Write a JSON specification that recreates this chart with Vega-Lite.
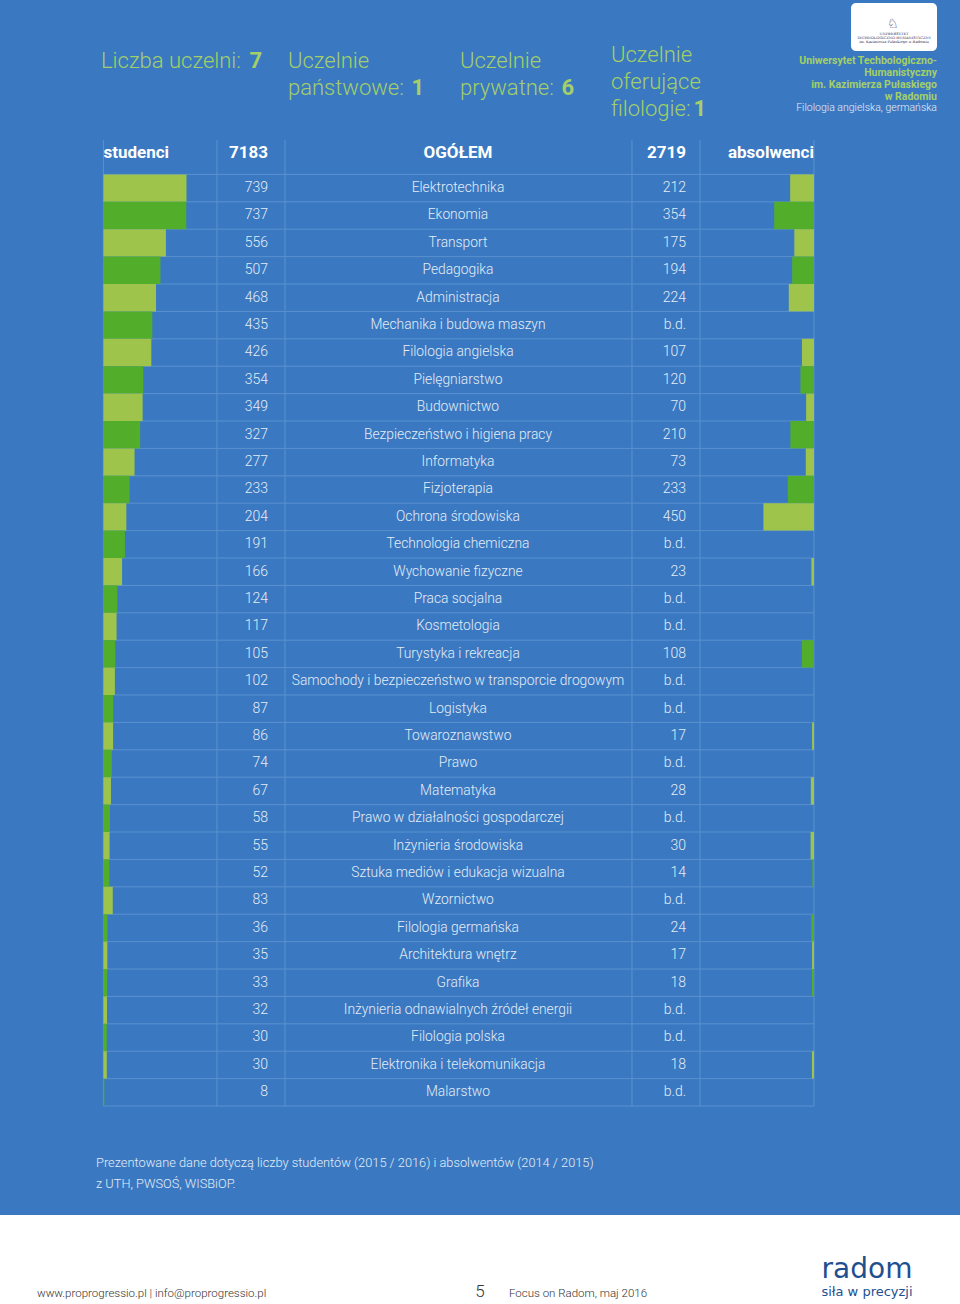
{
  "$schema": "https://vega.github.io/schema/vega-lite/v6.json",
  "padding": 0,
  "spacing": 0,
  "bounds": "flush",
  "background": "#3a79c1",
  "config": {"view": {"stroke": null}, "text": {"font": "Roboto"}},
  "datasets": {
    "courses": [
      {"course": "Elektrotechnika", "students": 739, "grads": 212},
      {"course": "Ekonomia", "students": 737, "grads": 354},
      {"course": "Transport", "students": 556, "grads": 175},
      {"course": "Pedagogika", "students": 507, "grads": 194},
      {"course": "Administracja", "students": 468, "grads": 224},
      {"course": "Mechanika i budowa maszyn", "students": 435, "grads": null},
      {"course": "Filologia angielska", "students": 426, "grads": 107},
      {"course": "Pielęgniarstwo", "students": 354, "grads": 120},
      {"course": "Budownictwo", "students": 349, "grads": 70},
      {"course": "Bezpieczeństwo i higiena pracy", "students": 327, "grads": 210},
      {"course": "Informatyka", "students": 277, "grads": 73},
      {"course": "Fizjoterapia", "students": 233, "grads": 233},
      {"course": "Ochrona środowiska", "students": 204, "grads": 450},
      {"course": "Technologia chemiczna", "students": 191, "grads": null},
      {"course": "Wychowanie fizyczne", "students": 166, "grads": 23},
      {"course": "Praca socjalna", "students": 124, "grads": null},
      {"course": "Kosmetologia", "students": 117, "grads": null},
      {"course": "Turystyka i rekreacja", "students": 105, "grads": 108},
      {"course": "Samochody i bezpieczeństwo w transporcie drogowym", "students": 102, "grads": null},
      {"course": "Logistyka", "students": 87, "grads": null},
      {"course": "Towaroznawstwo", "students": 86, "grads": 17},
      {"course": "Prawo", "students": 74, "grads": null},
      {"course": "Matematyka", "students": 67, "grads": 28},
      {"course": "Prawo w działalności gospodarczej", "students": 58, "grads": null},
      {"course": "Inżynieria środowiska", "students": 55, "grads": 30},
      {"course": "Sztuka mediów i edukacja wizualna", "students": 52, "grads": 14},
      {"course": "Wzornictwo", "students": 83, "grads": null},
      {"course": "Filologia germańska", "students": 36, "grads": 24},
      {"course": "Architektura wnętrz", "students": 35, "grads": 17},
      {"course": "Grafika", "students": 33, "grads": 18},
      {"course": "Inżynieria odnawialnych źródeł energii", "students": 32, "grads": null},
      {"course": "Filologia polska", "students": 30, "grads": null},
      {"course": "Elektronika i telekomunikacja", "students": 30, "grads": 18},
      {"course": "Malarstwo", "students": 8, "grads": null}
    ]
  },
  "vconcat": [
    {
      "width": 960,
      "height": 140,
      "data": {"values": [{}]},
      "layer": [
        {
          "mark": {"type": "rect", "fill": "#ffffff", "cornerRadius": 5},
          "encoding": {
            "x": {"datum": 851, "type": "quantitative", "scale": {"domain": [0, 960], "nice": false, "zero": false}, "axis": null},
            "x2": {"datum": 937},
            "y": {"datum": 3, "type": "quantitative", "scale": {"domain": [0, 140], "nice": false, "zero": false, "reverse": true}, "axis": null},
            "y2": {"datum": 51}
          }
        },
        {
          "mark": {"type": "text", "align": "center", "baseline": "alphabetic", "fontSize": 13, "color": "#2b2b55", "font": "DejaVu Serif"},
          "encoding": {
            "x": {"datum": 893, "type": "quantitative", "scale": {"domain": [0, 960], "nice": false, "zero": false}, "axis": null},
            "y": {"datum": 28, "type": "quantitative", "scale": {"domain": [0, 140], "nice": false, "zero": false, "reverse": true}, "axis": null},
            "text": {"value": "♘"}
          }
        },
        {
          "mark": {"type": "text", "align": "center", "baseline": "alphabetic", "fontSize": 3.6, "lineHeight": 4, "color": "#2b2b55", "font": "DejaVu Serif"},
          "encoding": {
            "x": {"datum": 894, "type": "quantitative", "scale": {"domain": [0, 960], "nice": false, "zero": false}, "axis": null},
            "y": {"datum": 35, "type": "quantitative", "scale": {"domain": [0, 140], "nice": false, "zero": false, "reverse": true}, "axis": null},
            "text": {"value": ["UNIWERSYTET", "TECHNOLOGICZNO-HUMANISTYCZNY", "im. Kazimierza Pułaskiego w Radomiu"]}
          }
        },
        {
          "mark": {"type": "text", "align": "left", "baseline": "alphabetic", "fontSize": 22, "fontWeight": 300, "color": "#a4cf68"},
          "encoding": {
            "x": {"datum": 101, "type": "quantitative", "scale": {"domain": [0, 960], "nice": false, "zero": false}, "axis": null},
            "y": {"datum": 67.5, "type": "quantitative", "scale": {"domain": [0, 140], "nice": false, "zero": false, "reverse": true}, "axis": null},
            "text": {"value": "Liczba uczelni:"}
          }
        },
        {
          "mark": {"type": "text", "align": "right", "baseline": "alphabetic", "fontSize": 22, "fontWeight": "bold", "color": "#a4cf68"},
          "encoding": {
            "x": {"datum": 262, "type": "quantitative", "scale": {"domain": [0, 960], "nice": false, "zero": false}, "axis": null},
            "y": {"datum": 67.5, "type": "quantitative", "scale": {"domain": [0, 140], "nice": false, "zero": false, "reverse": true}, "axis": null},
            "text": {"value": "7"}
          }
        },
        {
          "mark": {"type": "text", "align": "left", "baseline": "alphabetic", "fontSize": 22, "fontWeight": 300, "lineHeight": 27, "color": "#a4cf68"},
          "encoding": {
            "x": {"datum": 288, "type": "quantitative", "scale": {"domain": [0, 960], "nice": false, "zero": false}, "axis": null},
            "y": {"datum": 67.5, "type": "quantitative", "scale": {"domain": [0, 140], "nice": false, "zero": false, "reverse": true}, "axis": null},
            "text": {"value": ["Uczelnie", "państwowe:"]}
          }
        },
        {
          "mark": {"type": "text", "align": "right", "baseline": "alphabetic", "fontSize": 22, "fontWeight": "bold", "color": "#a4cf68"},
          "encoding": {
            "x": {"datum": 424, "type": "quantitative", "scale": {"domain": [0, 960], "nice": false, "zero": false}, "axis": null},
            "y": {"datum": 94.5, "type": "quantitative", "scale": {"domain": [0, 140], "nice": false, "zero": false, "reverse": true}, "axis": null},
            "text": {"value": "1"}
          }
        },
        {
          "mark": {"type": "text", "align": "left", "baseline": "alphabetic", "fontSize": 22, "fontWeight": 300, "lineHeight": 27, "color": "#a4cf68"},
          "encoding": {
            "x": {"datum": 460, "type": "quantitative", "scale": {"domain": [0, 960], "nice": false, "zero": false}, "axis": null},
            "y": {"datum": 67.5, "type": "quantitative", "scale": {"domain": [0, 140], "nice": false, "zero": false, "reverse": true}, "axis": null},
            "text": {"value": ["Uczelnie", "prywatne:"]}
          }
        },
        {
          "mark": {"type": "text", "align": "right", "baseline": "alphabetic", "fontSize": 22, "fontWeight": "bold", "color": "#a4cf68"},
          "encoding": {
            "x": {"datum": 574, "type": "quantitative", "scale": {"domain": [0, 960], "nice": false, "zero": false}, "axis": null},
            "y": {"datum": 94.5, "type": "quantitative", "scale": {"domain": [0, 140], "nice": false, "zero": false, "reverse": true}, "axis": null},
            "text": {"value": "6"}
          }
        },
        {
          "mark": {"type": "text", "align": "left", "baseline": "alphabetic", "fontSize": 22, "fontWeight": 300, "lineHeight": 27, "color": "#a4cf68"},
          "encoding": {
            "x": {"datum": 611, "type": "quantitative", "scale": {"domain": [0, 960], "nice": false, "zero": false}, "axis": null},
            "y": {"datum": 62, "type": "quantitative", "scale": {"domain": [0, 140], "nice": false, "zero": false, "reverse": true}, "axis": null},
            "text": {"value": ["Uczelnie", "oferujące", "filologie:"]}
          }
        },
        {
          "mark": {"type": "text", "align": "right", "baseline": "alphabetic", "fontSize": 22, "fontWeight": "bold", "color": "#a4cf68"},
          "encoding": {
            "x": {"datum": 706, "type": "quantitative", "scale": {"domain": [0, 960], "nice": false, "zero": false}, "axis": null},
            "y": {"datum": 116, "type": "quantitative", "scale": {"domain": [0, 140], "nice": false, "zero": false, "reverse": true}, "axis": null},
            "text": {"value": "1"}
          }
        },
        {
          "mark": {"type": "text", "align": "right", "baseline": "alphabetic", "fontSize": 10.5, "fontWeight": "bold", "lineHeight": 12, "color": "#a4cf68"},
          "encoding": {
            "x": {"datum": 937, "type": "quantitative", "scale": {"domain": [0, 960], "nice": false, "zero": false}, "axis": null},
            "y": {"datum": 64, "type": "quantitative", "scale": {"domain": [0, 140], "nice": false, "zero": false, "reverse": true}, "axis": null},
            "text": {"value": ["Uniwersytet Techbologiczno-", "Humanistyczny", "im. Kazimierza Pułaskiego", "w Radomiu"]}
          }
        },
        {
          "mark": {"type": "text", "align": "right", "baseline": "alphabetic", "fontSize": 10.5, "fontWeight": 300, "color": "#e3ecf7"},
          "encoding": {
            "x": {"datum": 937, "type": "quantitative", "scale": {"domain": [0, 960], "nice": false, "zero": false}, "axis": null},
            "y": {"datum": 111, "type": "quantitative", "scale": {"domain": [0, 140], "nice": false, "zero": false, "reverse": true}, "axis": null},
            "text": {"value": "Filologia angielska, germańska"}
          }
        }
      ]
    },
    {
      "width": 960,
      "height": 966,
      "data": {"name": "courses"},
      "resolve": {"scale": {"x": "independent"}},
      "layer": [
        {
          "mark": {"type": "rule", "color": "#5a91cf", "strokeWidth": 1},
          "encoding": {
            "x": {"datum": 0, "type": "quantitative", "scale": {"domain": [-920, 7620], "nice": false, "zero": false}, "axis": null},
            "x2": {"datum": 6321},
            "y": {"field": "course", "type": "nominal", "bandPosition": 0, "axis": null,
                  "scale": {"domain": ["OGÓŁEM", "Elektrotechnika", "Ekonomia", "Transport", "Pedagogika", "Administracja", "Mechanika i budowa maszyn", "Filologia angielska", "Pielęgniarstwo", "Budownictwo", "Bezpieczeństwo i higiena pracy", "Informatyka", "Fizjoterapia", "Ochrona środowiska", "Technologia chemiczna", "Wychowanie fizyczne", "Praca socjalna", "Kosmetologia", "Turystyka i rekreacja", "Samochody i bezpieczeństwo w transporcie drogowym", "Logistyka", "Towaroznawstwo", "Prawo", "Matematyka", "Prawo w działalności gospodarczej", "Inżynieria środowiska", "Sztuka mediów i edukacja wizualna", "Wzornictwo", "Filologia germańska", "Architektura wnętrz", "Grafika", "Inżynieria odnawialnych źródeł energii", "Filologia polska", "Elektronika i telekomunikacja", "Malarstwo"],
                            "paddingInner": 0, "paddingOuter": 0.1277, "align": 1}}
          }
        },
        {
          "data": {"values": [{}]},
          "mark": {"type": "rule", "color": "#5a91cf", "strokeWidth": 1},
          "encoding": {
            "x": {"datum": 0, "type": "quantitative", "scale": {"domain": [-920, 7620], "nice": false, "zero": false}, "axis": null},
            "x2": {"datum": 6321},
            "y": {"datum": "Malarstwo", "type": "nominal", "bandPosition": 1, "axis": null}
          }
        },
        {
          "data": {"values": [{}]},
          "mark": {"type": "rule", "color": "#5a91cf", "strokeWidth": 1},
          "encoding": {"x": {"datum": 0, "type": "quantitative", "scale": {"domain": [-920, 7620], "nice": false, "zero": false}, "axis": null}}
        },
        {
          "data": {"values": [{}]},
          "mark": {"type": "rule", "color": "#5a91cf", "strokeWidth": 1},
          "encoding": {"x": {"datum": 1010, "type": "quantitative", "scale": {"domain": [-920, 7620], "nice": false, "zero": false}, "axis": null}}
        },
        {
          "data": {"values": [{}]},
          "mark": {"type": "rule", "color": "#5a91cf", "strokeWidth": 1},
          "encoding": {"x": {"datum": 1615, "type": "quantitative", "scale": {"domain": [-920, 7620], "nice": false, "zero": false}, "axis": null}}
        },
        {
          "data": {"values": [{}]},
          "mark": {"type": "rule", "color": "#5a91cf", "strokeWidth": 1},
          "encoding": {"x": {"datum": 4702, "type": "quantitative", "scale": {"domain": [-920, 7620], "nice": false, "zero": false}, "axis": null}}
        },
        {
          "data": {"values": [{}]},
          "mark": {"type": "rule", "color": "#5a91cf", "strokeWidth": 1},
          "encoding": {"x": {"datum": 5307, "type": "quantitative", "scale": {"domain": [-920, 7620], "nice": false, "zero": false}, "axis": null}}
        },
        {
          "data": {"values": [{}]},
          "mark": {"type": "rule", "color": "#5a91cf", "strokeWidth": 1},
          "encoding": {"x": {"datum": 6321, "type": "quantitative", "scale": {"domain": [-920, 7620], "nice": false, "zero": false}, "axis": null}}
        },
        {
          "mark": {"type": "bar"},
          "encoding": {
            "x": {"field": "students", "type": "quantitative", "scale": {"domain": [-920, 7620], "nice": false, "zero": false}, "axis": null},
            "x2": {"datum": 0},
            "y": {"field": "course", "type": "nominal", "axis": null},
            "color": {"field": "course", "type": "nominal", "legend": null,
                      "scale": {"domain": ["Elektrotechnika", "Ekonomia", "Transport", "Pedagogika", "Administracja", "Mechanika i budowa maszyn", "Filologia angielska", "Pielęgniarstwo", "Budownictwo", "Bezpieczeństwo i higiena pracy", "Informatyka", "Fizjoterapia", "Ochrona środowiska", "Technologia chemiczna", "Wychowanie fizyczne", "Praca socjalna", "Kosmetologia", "Turystyka i rekreacja", "Samochody i bezpieczeństwo w transporcie drogowym", "Logistyka", "Towaroznawstwo", "Prawo", "Matematyka", "Prawo w działalności gospodarczej", "Inżynieria środowiska", "Sztuka mediów i edukacja wizualna", "Wzornictwo", "Filologia germańska", "Architektura wnętrz", "Grafika", "Inżynieria odnawialnych źródeł energii", "Filologia polska", "Elektronika i telekomunikacja", "Malarstwo"],
                                "range": ["#9ec44c", "#52ae2a", "#9ec44c", "#52ae2a", "#9ec44c", "#52ae2a", "#9ec44c", "#52ae2a", "#9ec44c", "#52ae2a", "#9ec44c", "#52ae2a", "#9ec44c", "#52ae2a", "#9ec44c", "#52ae2a", "#9ec44c", "#52ae2a", "#9ec44c", "#52ae2a", "#9ec44c", "#52ae2a", "#9ec44c", "#52ae2a", "#9ec44c", "#52ae2a", "#9ec44c", "#52ae2a", "#9ec44c", "#52ae2a", "#9ec44c", "#52ae2a", "#9ec44c", "#52ae2a"]}}
          }
        },
        {
          "mark": {"type": "bar"},
          "encoding": {
            "x": {"field": "grads", "type": "quantitative", "scale": {"domain": [-1299, 7241], "nice": false, "zero": false, "reverse": true}, "axis": null},
            "x2": {"datum": 0},
            "y": {"field": "course", "type": "nominal", "axis": null},
            "color": {"field": "course", "type": "nominal", "legend": null}
          }
        },
        {
          "mark": {"type": "text", "align": "right", "baseline": "middle", "fontSize": 14, "fontWeight": 300, "color": "#e3ecf7"},
          "encoding": {
            "x": {"datum": 1464, "type": "quantitative", "scale": {"domain": [-920, 7620], "nice": false, "zero": false}, "axis": null},
            "y": {"field": "course", "type": "nominal", "axis": null},
            "text": {"field": "students", "type": "quantitative", "format": "d"}
          }
        },
        {
          "mark": {"type": "text", "align": "center", "baseline": "middle", "fontSize": 13.8, "fontWeight": 300, "color": "#e3ecf7"},
          "encoding": {
            "x": {"datum": 3154, "type": "quantitative", "scale": {"domain": [-920, 7620], "nice": false, "zero": false}, "axis": null},
            "y": {"field": "course", "type": "nominal", "axis": null},
            "text": {"field": "course", "type": "nominal"}
          }
        },
        {
          "transform": [{"filter": "datum.grads != null"}],
          "mark": {"type": "text", "align": "right", "baseline": "middle", "fontSize": 14, "fontWeight": 300, "color": "#e3ecf7"},
          "encoding": {
            "x": {"datum": 5183, "type": "quantitative", "scale": {"domain": [-920, 7620], "nice": false, "zero": false}, "axis": null},
            "y": {"field": "course", "type": "nominal", "axis": null},
            "text": {"field": "grads", "type": "quantitative", "format": "d"}
          }
        },
        {
          "transform": [{"filter": "datum.grads == null"}],
          "mark": {"type": "text", "align": "right", "baseline": "middle", "fontSize": 14, "fontWeight": 300, "color": "#e3ecf7"},
          "encoding": {
            "x": {"datum": 5183, "type": "quantitative", "scale": {"domain": [-920, 7620], "nice": false, "zero": false}, "axis": null},
            "y": {"field": "course", "type": "nominal", "axis": null},
            "text": {"value": "b.d."}
          }
        },
        {
          "data": {"values": [{}]},
          "mark": {"type": "text", "align": "left", "baseline": "alphabetic", "dy": -3, "fontSize": 17, "fontWeight": "bold", "color": "#ffffff"},
          "encoding": {
            "x": {"datum": 0, "type": "quantitative", "scale": {"domain": [-920, 7620], "nice": false, "zero": false}, "axis": null},
            "y": {"datum": "OGÓŁEM", "type": "nominal", "axis": null},
            "text": {"value": "studenci"}
          }
        },
        {
          "mark": {"type": "text", "align": "right", "baseline": "alphabetic", "dy": -3, "fontSize": 17, "fontWeight": "bold", "color": "#ffffff"},
          "encoding": {
            "x": {"datum": 1464, "type": "quantitative", "scale": {"domain": [-920, 7620], "nice": false, "zero": false}, "axis": null},
            "y": {"datum": "OGÓŁEM", "type": "nominal", "axis": null},
            "text": {"aggregate": "sum", "field": "students", "type": "quantitative", "format": "d"}
          }
        },
        {
          "data": {"values": [{}]},
          "mark": {"type": "text", "align": "center", "baseline": "alphabetic", "dy": -3, "fontSize": 17, "fontWeight": "bold", "color": "#ffffff"},
          "encoding": {
            "x": {"datum": 3154, "type": "quantitative", "scale": {"domain": [-920, 7620], "nice": false, "zero": false}, "axis": null},
            "y": {"datum": "OGÓŁEM", "type": "nominal", "axis": null},
            "text": {"value": "OGÓŁEM"}
          }
        },
        {
          "mark": {"type": "text", "align": "right", "baseline": "alphabetic", "dy": -3, "fontSize": 17, "fontWeight": "bold", "color": "#ffffff"},
          "encoding": {
            "x": {"datum": 5183, "type": "quantitative", "scale": {"domain": [-920, 7620], "nice": false, "zero": false}, "axis": null},
            "y": {"datum": "OGÓŁEM", "type": "nominal", "axis": null},
            "text": {"aggregate": "sum", "field": "grads", "type": "quantitative", "format": "d"}
          }
        },
        {
          "data": {"values": [{}]},
          "mark": {"type": "text", "align": "right", "baseline": "alphabetic", "dy": -3, "fontSize": 17, "fontWeight": "bold", "color": "#ffffff"},
          "encoding": {
            "x": {"datum": 6321, "type": "quantitative", "scale": {"domain": [-920, 7620], "nice": false, "zero": false}, "axis": null},
            "y": {"datum": "OGÓŁEM", "type": "nominal", "axis": null},
            "text": {"value": "absolwenci"}
          }
        }
      ]
    },
    {
      "width": 960,
      "height": 198,
      "data": {"values": [{}]},
      "layer": [
        {
          "mark": {"type": "rect", "fill": "#ffffff"},
          "encoding": {
            "x": {"datum": 0, "type": "quantitative", "scale": {"domain": [0, 960], "nice": false, "zero": false}, "axis": null},
            "x2": {"datum": 960},
            "y": {"datum": 109, "type": "quantitative", "scale": {"domain": [0, 198], "nice": false, "zero": false, "reverse": true}, "axis": null},
            "y2": {"datum": 198}
          }
        },
        {
          "mark": {"type": "text", "align": "left", "baseline": "alphabetic", "fontSize": 12.8, "fontWeight": 300, "lineHeight": 20.5, "color": "#e3ecf7"},
          "encoding": {
            "x": {"datum": 96, "type": "quantitative", "scale": {"domain": [0, 960], "nice": false, "zero": false}, "axis": null},
            "y": {"datum": 61, "type": "quantitative", "scale": {"domain": [0, 198], "nice": false, "zero": false, "reverse": true}, "axis": null},
            "text": {"value": ["Prezentowane dane dotyczą liczby studentów (2015 / 2016) i absolwentów (2014 / 2015)", "z UTH, PWSOŚ, WISBiOP."]}
          }
        },
        {
          "mark": {"type": "text", "align": "left", "baseline": "alphabetic", "fontSize": 11.5, "fontWeight": 300, "color": "#333333"},
          "encoding": {
            "x": {"datum": 37, "type": "quantitative", "scale": {"domain": [0, 960], "nice": false, "zero": false}, "axis": null},
            "y": {"datum": 191, "type": "quantitative", "scale": {"domain": [0, 198], "nice": false, "zero": false, "reverse": true}, "axis": null},
            "text": {"value": "www.proprogressio.pl  |  info@proprogressio.pl"}
          }
        },
        {
          "mark": {"type": "text", "align": "center", "baseline": "alphabetic", "fontSize": 17, "fontWeight": 300, "color": "#333333"},
          "encoding": {
            "x": {"datum": 480, "type": "quantitative", "scale": {"domain": [0, 960], "nice": false, "zero": false}, "axis": null},
            "y": {"datum": 191, "type": "quantitative", "scale": {"domain": [0, 198], "nice": false, "zero": false, "reverse": true}, "axis": null},
            "text": {"value": "5"}
          }
        },
        {
          "mark": {"type": "text", "align": "left", "baseline": "alphabetic", "fontSize": 11.5, "fontWeight": 300, "color": "#333333"},
          "encoding": {
            "x": {"datum": 509, "type": "quantitative", "scale": {"domain": [0, 960], "nice": false, "zero": false}, "axis": null},
            "y": {"datum": 191, "type": "quantitative", "scale": {"domain": [0, 198], "nice": false, "zero": false, "reverse": true}, "axis": null},
            "text": {"value": "Focus on Radom, maj 2016"}
          }
        },
        {
          "mark": {"type": "text", "align": "center", "baseline": "alphabetic", "fontSize": 28, "font": "DejaVu Sans", "color": "#1e4f8f"},
          "encoding": {
            "x": {"datum": 867, "type": "quantitative", "scale": {"domain": [0, 960], "nice": false, "zero": false}, "axis": null},
            "y": {"datum": 172, "type": "quantitative", "scale": {"domain": [0, 198], "nice": false, "zero": false, "reverse": true}, "axis": null},
            "text": {"value": "radom"}
          }
        },
        {
          "mark": {"type": "text", "align": "center", "baseline": "alphabetic", "fontSize": 13, "font": "DejaVu Sans", "color": "#1e4f8f"},
          "encoding": {
            "x": {"datum": 867, "type": "quantitative", "scale": {"domain": [0, 960], "nice": false, "zero": false}, "axis": null},
            "y": {"datum": 190, "type": "quantitative", "scale": {"domain": [0, 198], "nice": false, "zero": false, "reverse": true}, "axis": null},
            "text": {"value": "siła w precyzji"}
          }
        }
      ]
    }
  ]
}
